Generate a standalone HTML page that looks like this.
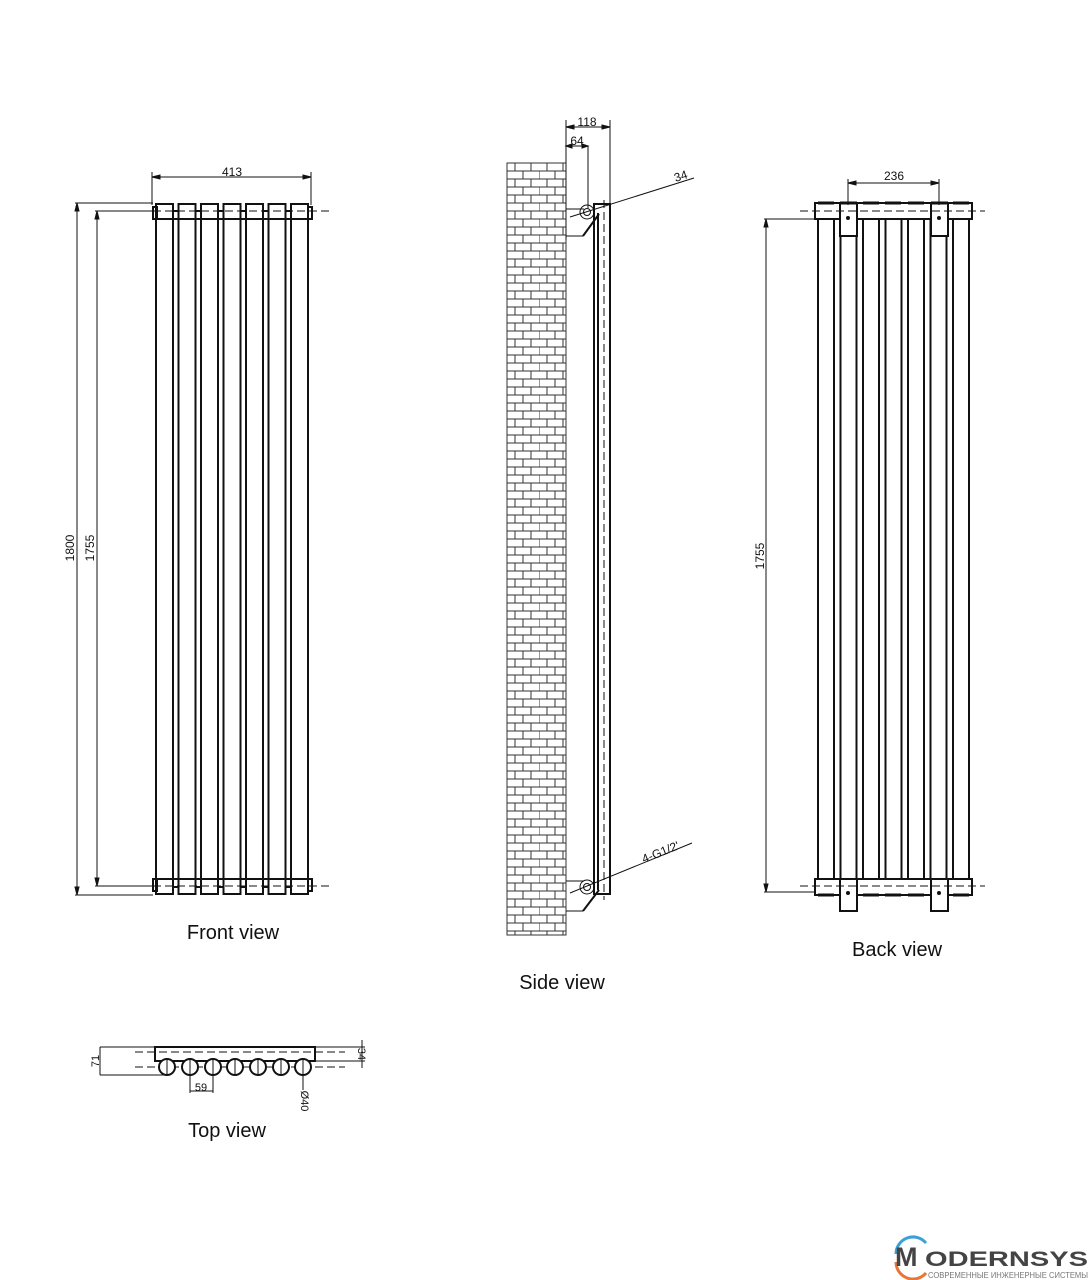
<!DOCTYPE html>
<html><head><meta charset="utf-8"><style>
html,body{margin:0;padding:0;background:#fff}
svg{display:block}
text{font-family:"Liberation Sans",Arial,sans-serif;fill:#111}
</style></head><body>
<svg width="1090" height="1280" viewBox="0 0 1090 1280" xmlns="http://www.w3.org/2000/svg">
<defs>
<pattern id="brick" x="507" y="163" width="32" height="16" patternUnits="userSpaceOnUse">
<rect width="32" height="16" fill="#fff"/>
<path d="M0 0H32M0 8H32M0 16H32M8 0V8M24 0V8M0 8V16M16 8V16" stroke="#333" stroke-width="1" fill="none"/>
</pattern>
</defs>
<g stroke="#111" fill="none" stroke-width="1">
<!-- FRONT VIEW -->
<g stroke-width="2">
<rect x="156" y="204" width="17" height="690" fill="#fff"/>
<rect x="178.5" y="204" width="17" height="690" fill="#fff"/>
<rect x="201" y="204" width="17" height="690" fill="#fff"/>
<rect x="223.5" y="204" width="17" height="690" fill="#fff"/>
<rect x="246" y="204" width="17" height="690" fill="#fff"/>
<rect x="268.5" y="204" width="17" height="690" fill="#fff"/>
<rect x="291" y="204" width="17" height="690" fill="#fff"/>
<path d="M156 219H308M156 879H308"/>
<rect x="153" y="207" width="4" height="12"/>
<rect x="308" y="207" width="4" height="12"/>
<rect x="153" y="879" width="4" height="12"/>
<rect x="308" y="879" width="4" height="12"/>
<path d="M173 211h5.5M195.5 211h5.5M218 211h5.5M240.5 211h5.5M263 211h5.5M285.5 211h5.5M173 219h5.5M195.5 219h5.5M218 219h5.5M240.5 219h5.5M263 219h5.5M285.5 219h5.5" />
<path d="M173 879h5.5M195.5 879h5.5M218 879h5.5M240.5 879h5.5M263 879h5.5M285.5 879h5.5M173 887h5.5M195.5 887h5.5M218 887h5.5M240.5 887h5.5M263 887h5.5M285.5 887h5.5" />
</g>
<path d="M153 211H330M153 886H330" stroke-dasharray="8 4"/>
<path d="M152 177H311M152 172V205M311 172V205"/>
<path d="M75 203H153M75 895H153M77 203V895M95 211H153M95 886H153M97 211V886"/>
<path d="M77 203l-2 8h4zM77 895l-2 -8h4zM97 211l-2 8h4zM97 886l-2 -8h4zM152 177l8 -2v4zM311 177l-8 -2v4z" fill="#111"/>
<!-- SIDE VIEW -->
<rect x="507" y="163" width="59" height="772" fill="url(#brick)" stroke="#333"/>
<path d="M566 120V240M610 120V203M566 127H610M566 146H588M588 146V208" />
<path d="M566 127l8 -2v4zM610 127l-8 -2v4zM566 146l6 -2v4zM588 146l-6 -2v4z" fill="#111"/>
<g stroke-width="2">
<rect x="594" y="204" width="16" height="690" fill="#fff"/>
<path d="M598 213V890"/>
</g>
<path d="M604 200V900" stroke-dasharray="8 4"/>
<path d="M566 209H584M566 236H583M570 217L694 178M570 893L692 843M566 881H584M566 911H583"/>
<path d="M583 236L599 214M583 911L599 890" stroke-width="2"/>
<circle cx="587" cy="212" r="7"/><circle cx="587" cy="212" r="3.5"/>
<circle cx="587" cy="887" r="7"/><circle cx="587" cy="887" r="3.5"/>
<!-- BACK VIEW -->
<g stroke-width="2">
<rect x="818" y="219" width="16" height="660" fill="#fff"/>
<rect x="840.5" y="219" width="16" height="660" fill="#fff"/>
<rect x="863" y="219" width="16" height="660" fill="#fff"/>
<rect x="885.5" y="219" width="16" height="660" fill="#fff"/>
<rect x="908" y="219" width="16" height="660" fill="#fff"/>
<rect x="930.5" y="219" width="16" height="660" fill="#fff"/>
<rect x="953" y="219" width="16" height="660" fill="#fff"/>
<rect x="815" y="203" width="157" height="16" fill="#fff"/>
<rect x="815" y="879" width="157" height="16" fill="#fff"/>
<rect x="840" y="203" width="17" height="33" fill="#fff"/>
<rect x="931" y="203" width="17" height="33" fill="#fff"/>
<rect x="840" y="879" width="17" height="32" fill="#fff"/>
<rect x="931" y="879" width="17" height="32" fill="#fff"/>
<path d="M818 203h16M840 203h17M863 203h16M885 203h16M908 203h16M931 203h17M953 203h16" stroke-width="3"/>
<path d="M818 895h16M863 895h16M885 895h16M908 895h16M953 895h16" stroke-width="3"/>
</g>
<path d="M800 211H985M800 886H985" stroke-dasharray="8 4"/>
<circle cx="848" cy="218" r="1.5" fill="#111"/><circle cx="939" cy="218" r="1.5" fill="#111"/>
<circle cx="848" cy="893" r="1.5" fill="#111"/><circle cx="939" cy="893" r="1.5" fill="#111"/>
<path d="M848 183H939M848 179V205M939 179V205"/>
<path d="M848 183l8 -2v4zM939 183l-8 -2v4z" fill="#111"/>
<path d="M764 219H815M764 892H815M766 219V892"/>
<path d="M766 219l-2 8h4zM766 892l-2 -8h4z" fill="#111"/>
<!-- TOP VIEW -->
<rect x="155" y="1047" width="160" height="14" stroke-width="2" fill="#fff"/>
<path d="M135 1052H345M135 1067H345" stroke-dasharray="8 4"/>
<g stroke-width="2" fill="#fff">
<circle cx="167" cy="1067" r="8"/><circle cx="190" cy="1067" r="8"/><circle cx="213" cy="1067" r="8"/>
<circle cx="235" cy="1067" r="8"/><circle cx="258" cy="1067" r="8"/><circle cx="281" cy="1067" r="8"/><circle cx="303" cy="1067" r="8"/>
</g>
<path d="M167 1059V1075M190 1059V1075M213 1059V1075M235 1059V1075M258 1059V1075M281 1059V1075M303 1059V1075"/>
<path d="M100 1047H155M100 1075H167M100 1047V1075M315 1047H365M315 1061H365M362 1040V1068"/>
<path d="M190 1075V1093M213 1075V1093M190 1091H213M303 1075V1090"/>
</g>
<g font-size="12">
<text x="232" y="176" text-anchor="middle">413</text>
<text transform="translate(74,548) rotate(-90)" text-anchor="middle">1800</text>
<text transform="translate(94,548) rotate(-90)" text-anchor="middle">1755</text>
<text x="587" y="126" text-anchor="middle">118</text>
<text x="577" y="145" text-anchor="middle">64</text>
<text transform="translate(682,180) rotate(-18)" text-anchor="middle">34</text>
<text transform="translate(662,856) rotate(-22)" text-anchor="middle">4-G1/2'</text>
<text x="894" y="180" text-anchor="middle">236</text>
<text transform="translate(764,556) rotate(-90)" text-anchor="middle">1755</text>
<text font-size="11" transform="translate(99,1061) rotate(-90)" text-anchor="middle">71</text>
<text font-size="11" transform="translate(358,1054) rotate(90)" text-anchor="middle">34</text>
<text font-size="11" x="201" y="1091" text-anchor="middle">59</text>
<text font-size="11" transform="translate(301,1101) rotate(90)" text-anchor="middle">Ø40</text>
</g>
<g font-size="20">
<text x="233" y="939" text-anchor="middle">Front view</text>
<text x="562" y="989" text-anchor="middle">Side view</text>
<text x="897" y="956" text-anchor="middle">Back view</text>
<text x="227" y="1137" text-anchor="middle">Top view</text>
</g>
<!-- LOGO -->
<path d="M896 1254 A17 17 0 0 1 926 1243" stroke="#3aa0d8" stroke-width="3" fill="none"/>
<path d="M896 1262 A17 17 0 0 0 926 1273" stroke="#e8753a" stroke-width="3" fill="none"/>
<text x="895" y="1266" font-size="27" font-weight="bold" style="fill:#444">M</text>
<text x="925" y="1266" font-size="21" font-weight="bold" style="fill:#444" textLength="163" lengthAdjust="spacingAndGlyphs">ODERNSYS</text>
<text x="928" y="1278" font-size="8" style="fill:#777" textLength="160" lengthAdjust="spacingAndGlyphs">СОВРЕМЕННЫЕ ИНЖЕНЕРНЫЕ СИСТЕМЫ</text>
</svg>
</body></html>
